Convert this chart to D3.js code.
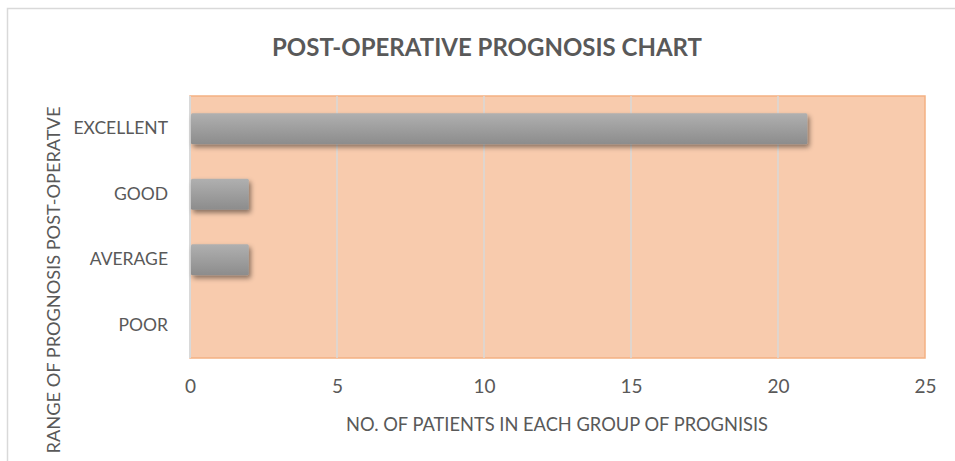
<!DOCTYPE html>
<html>
<head>
<meta charset="utf-8">
<script src="https://cdn.jsdelivr.net/npm/d3@7"></script>
<style>
	body { margin: 0; background: #fff; }
	svg { display: block; font-family: Lato, "Open Sans", sans-serif; }
</style>
</head>
<body>
<div id="chart"></div>
<script>
// chart data
let categories = ["EXCELLENT", "GOOD", "AVERAGE", "POOR"];
let patients = [21, 2, 2, 0];
let xTicks = [0, 5, 10, 15, 20, 25];

let width = 955, height = 461;
let margin = {top: 96, right: 30, bottom: 103, left: 190};
let w = 925 - margin.left;
let h = 358 - margin.top;

let svg = d3.select("#chart").append("svg")
	.attr("width", width)
	.attr("height", height);

// gradient + shadow for the bars
let defs = svg.append("defs");
let grad = defs.append("linearGradient")
	.attr("id", "barGrad")
	.attr("x1", 0).attr("y1", 0).attr("x2", 0).attr("y2", 1);
grad.append("stop").attr("offset", "0%").attr("stop-color", "#b0b0b0");
grad.append("stop").attr("offset", "100%").attr("stop-color", "#8c8c8c");
let shadow = defs.append("filter")
	.attr("id", "barShadow")
	.attr("x", "-10%").attr("y", "-30%").attr("width", "130%").attr("height", "180%");
shadow.append("feDropShadow")
	.attr("dx", 2).attr("dy", 3).attr("stdDeviation", 2.5)
	.attr("flood-color", "#000").attr("flood-opacity", 0.45);

// outer chart border (cut off on right and bottom)
svg.append("rect")
	.attr("x", 7.5).attr("y", 8.5)
	.attr("width", 1000).attr("height", 1000)
	.attr("fill", "none")
	.attr("stroke", "#d9d9d9")
	.attr("stroke-width", 1.5);

// title
svg.append("text")
	.attr("x", 487).attr("y", 56)
	.attr("text-anchor", "middle")
	.attr("fill", "#595959")
	.style("font-size", "24px")
	.style("font-weight", "bold")
	.text("POST-OPERATIVE PROGNOSIS CHART");

let g = svg.append("g")
	.attr("transform", "translate(" + margin.left + "," + margin.top + ")");

// scales
let x = d3.scaleLinear().domain([0, 25]).range([0, w]);
let y = d3.scaleBand().domain(categories).range([0, h]).paddingInner(0.524).paddingOuter(0.262);

// plot area
g.append("rect")
	.attr("width", w).attr("height", h)
	.attr("fill", "#f8cbad")
	.attr("stroke", "#f4b183")
	.attr("stroke-width", 1.5);

// gridlines
g.selectAll(".grid")
	.data(xTicks.slice(1, -1))
	.enter().append("line")
	.attr("class", "grid")
	.attr("x1", d => x(d)).attr("x2", d => x(d))
	.attr("y1", 0).attr("y2", h)
	.attr("stroke", "#d9d9d9")
	.attr("stroke-width", 1.5);

// left axis line
g.append("line")
	.attr("x1", 0).attr("x2", 0)
	.attr("y1", 0).attr("y2", h)
	.attr("stroke", "#d9d9d9")
	.attr("stroke-width", 2);

// bars
g.selectAll(".bar")
	.data(categories.filter((c, i) => patients[i] > 0))
	.enter().append("rect")
	.attr("class", "bar")
	.attr("x", 1)
	.attr("y", d => y(d))
	.attr("width", d => x(patients[categories.indexOf(d)]) - 1)
	.attr("height", y.bandwidth())
	.attr("rx", 1.5)
	.attr("fill", "url(#barGrad)")
	.attr("filter", "url(#barShadow)");

// x axis
let xAxis = d3.axisBottom(x).tickValues(xTicks).tickSize(0).tickPadding(22);
let xg = g.append("g")
	.attr("transform", "translate(0," + h + ")")
	.call(xAxis);
xg.select(".domain").remove();
xg.selectAll("text")
	.attr("fill", "#595959")
	.style("font-size", "19px")
	.style("font-family", "Lato, 'Open Sans', sans-serif");

// y axis
let yAxis = d3.axisLeft(y).tickSize(0).tickPadding(22);
let yg = g.append("g").call(yAxis);
yg.select(".domain").remove();
yg.selectAll("text")
	.attr("fill", "#595959")
	.style("font-size", "17.5px")
	.style("font-family", "Lato, 'Open Sans', sans-serif");

// axis titles
svg.append("text")
	.attr("x", 557).attr("y", 431)
	.attr("text-anchor", "middle")
	.attr("fill", "#595959")
	.style("font-size", "18.3px")
	.text("NO. OF PATIENTS IN EACH GROUP OF PROGNISIS");

svg.append("text")
	.attr("transform", "translate(60,280) rotate(-90)")
	.attr("text-anchor", "middle")
	.attr("fill", "#595959")
	.style("font-size", "18.2px")
	.text("RANGE OF PROGNOSIS POST-OPERATVE");
</script>
</body>
</html>
